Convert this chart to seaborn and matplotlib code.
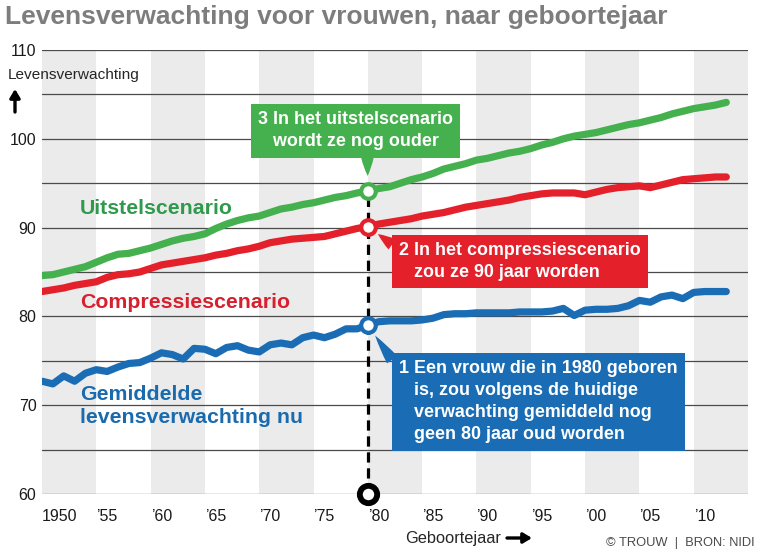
import numpy as np
import pandas as pd
import matplotlib.pyplot as plt
import seaborn as sns
from matplotlib.transforms import ScaledTranslation

# ---- data ----
years = list(range(1950, 2014))

uitstel = [84.6, 84.7, 85.0, 85.3, 85.6, 86.1, 86.6, 87.0, 87.1, 87.4,
           87.7, 88.1, 88.5, 88.8, 89.0, 89.3, 89.9, 90.4, 90.8, 91.1,
           91.3, 91.7, 92.1, 92.3, 92.6, 92.8, 93.1, 93.4, 93.6, 93.9,
           94.1, 94.4, 94.6, 95.0, 95.4, 95.7, 96.1, 96.6, 96.9, 97.2,
           97.6, 97.8, 98.1, 98.4, 98.6, 98.9, 99.3, 99.6, 100.0, 100.3,
           100.5, 100.7, 101.0, 101.3, 101.6, 101.8, 102.1, 102.4, 102.8, 103.1,
           103.4, 103.6, 103.8, 104.1]

compressie = [82.8, 83.0, 83.2, 83.5, 83.7, 83.9, 84.4, 84.7, 84.8, 85.0,
              85.4, 85.8, 86.0, 86.2, 86.4, 86.6, 86.9, 87.1, 87.4, 87.6,
              87.9, 88.3, 88.5, 88.7, 88.8, 88.9, 89.0, 89.3, 89.6, 89.9,
              90.1, 90.4, 90.6, 90.8, 91.0, 91.3, 91.5, 91.7, 92.0, 92.3,
              92.5, 92.7, 92.9, 93.1, 93.4, 93.6, 93.8, 93.9, 93.9, 93.9,
              93.7, 94.0, 94.3, 94.5, 94.6, 94.7, 94.5, 94.8, 95.1, 95.4,
              95.5, 95.6, 95.7, 95.7]

huidig = [72.7, 72.4, 73.3, 72.7, 73.6, 74.0, 73.8, 74.3, 74.7, 74.8,
          75.3, 75.9, 75.7, 75.2, 76.4, 76.3, 75.8, 76.5, 76.7, 76.2,
          76.0, 76.8, 77.0, 76.8, 77.6, 77.9, 77.6, 78.0, 78.6, 78.6,
          79.0, 79.4, 79.5, 79.5, 79.5, 79.6, 79.8, 80.2, 80.3, 80.3,
          80.4, 80.4, 80.4, 80.4, 80.5, 80.5, 80.5, 80.6, 80.9, 80.1,
          80.7, 80.8, 80.8, 80.9, 81.2, 81.8, 81.6, 82.2, 82.4, 82.0,
          82.7, 82.8, 82.8, 82.8]

series_names = ["Uitstelscenario", "Compressiescenario", "Huidig"]
marker_year = 1980

x_ticks = [1950, 1955, 1960, 1965, 1970, 1975, 1980, 1985, 1990, 1995, 2000, 2005, 2010]
x_labels = ["1950", "\u201955", "\u201960", "\u201965", "\u201970", "\u201975", "\u201980",
            "\u201985", "\u201990", "\u201995", "\u201900", "\u201905", "\u201910"]
y_ticks = [60, 70, 80, 90, 100, 110]
stripe_starts = [1950, 1960, 1970, 1980, 1990, 2000, 2010]

# ---- style ----
GREEN, GREEN_TXT = "#45b04e", "#2f9a4c"
RED, RED_TXT = "#e4202b", "#d81f2e"
BLUE, BLUE_TXT = "#1a6db4", "#1a6aae"

sns.set_style("white")
FONT = "Liberation Sans"
plt.rcParams["font.family"] = [FONT, "DejaVu Sans"]

fig = plt.figure(figsize=(7.63, 5.53), dpi=100)
ax = fig.add_axes([42 / 763, 1 - 494 / 553, 706 / 763, 444 / 553])

for s in stripe_starts:
    ax.axvspan(s, s + 5, color="#ebebeb", lw=0, zorder=0)

df = pd.DataFrame({
    "jaar": years * 3,
    "leeftijd": uitstel + compressie + huidig,
    "scenario": np.repeat(series_names, len(years)),
})
sns.lineplot(data=df, x="jaar", y="leeftijd", hue="scenario",
             palette={"Uitstelscenario": GREEN, "Compressiescenario": RED, "Huidig": BLUE},
             linewidth=5.2, legend=False, ax=ax, zorder=3,
             solid_capstyle="round", solid_joinstyle="round")

ax.set_xlim(1950, 2015)
ax.set_ylim(60, 110)
ax.set_yticks(y_ticks)
ax.set_yticks(range(65, 110, 10), minor=True)
ax.set_xticks(x_ticks)
ax.set_xticklabels(x_labels, ha="left")
shift = ScaledTranslation(-2 / 72, 0, fig.dpi_scale_trans)
for lab in ax.get_xticklabels():
    lab.set_transform(lab.get_transform() + shift)
ax.yaxis.grid(True, which="both", color="#4a4a4a", lw=0.9, zorder=1)
ax.xaxis.grid(False)
ax.tick_params(axis="both", which="both", length=0, labelsize=11.5, colors="#1a1a1a")
ax.tick_params(axis="x", pad=11)
ax.tick_params(axis="y", pad=4)
for sp in ax.spines.values():
    sp.set_visible(False)
ax.set_xlabel("")
ax.set_ylabel("")

# ---- 1980 markers ----
i = years.index(marker_year)
ax.vlines(marker_year, 60, uitstel[i], colors="black", lw=2.3,
          linestyles=(0, (3.2, 1.8)), zorder=2)
for vals, col in [(uitstel, GREEN), (compressie, RED), (huidig, BLUE)]:
    ax.plot(marker_year, vals[i], "o", ms=10.5, mfc="white", mec=col, mew=3, zorder=5)
ax.plot(marker_year, 60, "o", ms=12.5, mfc="white", mec="black", mew=4.2,
        zorder=6, clip_on=False)

# ---- series labels ----
ax.text(1953.5, 92.1, "Uitstelscenario", color=GREEN_TXT, fontsize=15.3,
        fontweight="bold", va="center", ha="left")
ax.text(1953.5, 81.6, "Compressiescenario", color=RED_TXT, fontsize=15.3,
        fontweight="bold", va="center", ha="left")
ax.text(1953.5, 69.9, "Gemiddelde\nlevensverwachting nu", color=BLUE_TXT, fontsize=15.3,
        fontweight="bold", va="center", ha="left", linespacing=1.25)

# ---- callout boxes ----
def callout(text, xy, xytext, color, relpos, shrink):
    ax.annotate(text, xy=xy, xytext=xytext, textcoords="data",
                color="white", fontsize=12.9, fontweight="bold",
                ha="left", va="center", linespacing=1.4, zorder=7,
                bbox=dict(boxstyle="square,pad=0.4", fc=color, ec="none"),
                arrowprops=dict(arrowstyle="wedge,tail_width=0.7,shrink_factor=0.6",
                                fc=color, ec="none", relpos=relpos,
                                shrinkA=0, shrinkB=shrink))

callout("3 In het uitstelscenario\n   wordt ze nog ouder",
        (marker_year, uitstel[i]), (1969.9, 100.9), GREEN, (0.56, 0.0), 11)
callout("2 In het compressiescenario\n   zou ze 90 jaar worden",
        (marker_year, compressie[i]), (1982.9, 86.2), RED, (0.0, 0.8), 9)
callout("1 Een vrouw die in 1980 geboren\n   is, zou volgens de huidige\n"
        "   verwachting gemiddeld nog\n   geen 80 jaar oud worden",
        (marker_year, huidig[i]), (1982.9, 70.4), BLUE, (0.0, 0.88), 9)

# ---- titles and axis captions ----
fig.text(5 / 763, 1 - 17 / 553, "Levensverwachting voor vrouwen, naar geboortejaar",
         fontsize=19, fontweight="bold", color="#7d7d7d", va="center", ha="left")
fig.text(8 / 763, 1 - 75 / 553, "Levensverwachting", fontsize=11.1, va="center", ha="left")
ax.annotate("", xy=(15 / 763, 1 - 89 / 553), xytext=(15 / 763, 1 - 112 / 553),
            xycoords="figure fraction", textcoords="figure fraction",
            arrowprops=dict(arrowstyle="-|>,head_length=0.5,head_width=0.3",
                            lw=2.4, color="black", shrinkA=0, shrinkB=0))
fig.text(405 / 763, 1 - 538 / 553, "Geboortejaar", fontsize=11.8, va="center", ha="left")
ax.annotate("", xy=(532 / 763, 1 - 538 / 553), xytext=(507 / 763, 1 - 538 / 553),
            xycoords="figure fraction", textcoords="figure fraction",
            arrowprops=dict(arrowstyle="-|>,head_length=0.5,head_width=0.3",
                            lw=2.4, color="black", shrinkA=0, shrinkB=0))
fig.text(755 / 763, 1 - 543 / 553, "\u00a9 TROUW  |  BRON: NIDI", fontsize=9.3,
         color="#4a4a4a", va="center", ha="right")

fig.savefig("out.png", dpi=100)
